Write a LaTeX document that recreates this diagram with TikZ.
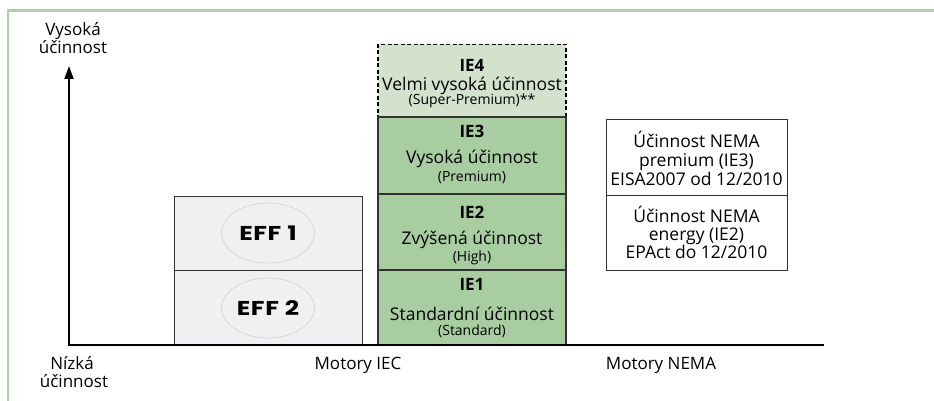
\documentclass[tikz,border=0pt]{standalone}
\usepackage{fontspec}
\setmainfont{Open Sans}
\newfontfamily\efffont[FakeStretch=1.25,LetterSpace=3]{Poppins}
\usetikzlibrary{arrows.meta,shapes.geometric}
\definecolor{framegreen}{RGB}{172,212,165}
\definecolor{iegreen}{RGB}{167,205,160}
\definecolor{ielight}{RGB}{210,226,204}
\definecolor{effgray}{RGB}{240,240,242}
\definecolor{boxline}{RGB}{50,50,50}
\tikzset{
  iebox/.style={draw=boxline, line width=1.2pt, fill=iegreen, minimum width=188pt, inner sep=0pt},
  ietitle/.style={anchor=base, inner sep=0pt, font=\bfseries\fontsize{17}{20}\selectfont},
  iemain/.style={anchor=base, inner sep=0pt, font=\fontsize{17.5}{20}\selectfont},
  iesmall/.style={anchor=base, inner sep=0pt, font=\fontsize{14}{16}\selectfont},
  effbox/.style={draw=boxline, line width=1pt, fill=effgray, minimum width=188pt, minimum height=74.5pt, inner sep=0pt},
  nemabox/.style={draw=boxline, line width=1pt, fill=white, minimum width=181pt, minimum height=75pt, inner sep=0pt},
  nematext/.style={anchor=base, inner sep=0pt, font=\fontsize{17.5}{20}\selectfont},
  effoval/.style={draw=black!22, line width=0.4pt, ellipse, minimum width=93pt, minimum height=60pt, inner sep=0pt, font=\efffont\bfseries\fontsize{20}{20}\selectfont},
  axlabel/.style={anchor=base, inner sep=0pt, font=\fontsize{17}{19}\selectfont},
}
\begin{document}
\begin{tikzpicture}[x=1pt,y=-1pt]
\useasboundingbox (0,0) rectangle (934,401);
% frame
\coordinate (f1) at (8,401);
\coordinate (f2) at (8,10.5);
\coordinate (f3) at (934,10.5);
\draw[framegreen, line width=2.5pt] (f1) -- (f2) -- (f3);
% EFF boxes
\node[effbox] (eff1) at (268,233.5) {};
\node[effbox] (eff2) at (268,308) {};
\node[effoval] (o1) at (268,233) {EFF 1};
\node[effoval] (o2) at (268,308) {EFF 2};
% IE boxes
\node[iebox, fill=ielight, draw=black, dash pattern=on 4pt off 2.5pt, minimum height=73pt] (ie4) at (472,81) {};
\node[iebox, minimum height=77pt] (ie3) at (472,155.5) {};
\node[iebox, minimum height=76pt] (ie2) at (472,232) {};
\node[iebox, minimum height=75pt] (ie1) at (472,307.5) {};
\node[ietitle] (t4) at (472,72) {IE4};
\node[iemain] (m4) at (472,91) {Velmi vysoká účinnost};
\node[iesmall] (s4) at (472,105) {(Super-Premium)**};
\node[ietitle] (t3) at (472,138) {IE3};
\node[iemain] (m3) at (472,164) {Vysoká účinnost};
\node[iesmall] (s3) at (472,181) {(Premium)};
\node[ietitle] (t2) at (472,218) {IE2};
\node[iemain] (m2) at (472,244) {Zvýšená účinnost};
\node[iesmall] (s2) at (472,261) {(High)};
\node[ietitle] (t1) at (472,290) {IE1};
\node[iemain] (m1) at (472,320) {Standardní účinnost};
\node[iesmall] (s1) at (472,335) {(Standard)};
% NEMA boxes
\node[nemabox] (n3) at (696.5,157.5) {};
\node[nemabox] (n2) at (696.5,232.5) {};
\node[nematext] (a3) at (696.5,147) {Účinnost NEMA};
\node[nematext] (b3) at (696.5,166) {premium (IE3)};
\node[nematext] (c3) at (696.5,185) {EISA2007 od 12/2010};
\node[nematext] (a2) at (696.5,222) {Účinnost NEMA};
\node[nematext] (b2) at (696.5,240) {energy (IE2)};
\node[nematext] (c2) at (696.5,258) {EPAct do 12/2010};
% axes
\coordinate (o) at (69,345);
\coordinate (ytop) at (69,66);
\coordinate (xend) at (824,345);
\draw[line width=2pt, -{Triangle[length=13pt,width=9pt]}] (o) -- (ytop);
\draw[line width=2.2pt] (68,345) -- (xend);
% labels
\node[axlabel] (hi1) at (73,36) {Vysoká};
\node[axlabel] (hi2) at (73,54) {účinnost};
\node[axlabel] (lo1) at (72,369) {Nízká};
\node[axlabel] (lo2) at (74,387) {účinnost};
\node[axlabel] (iec) at (358,369) {Motory IEC};
\node[axlabel] (nema) at (661,369) {Motory NEMA};
\end{tikzpicture}
\end{document}
